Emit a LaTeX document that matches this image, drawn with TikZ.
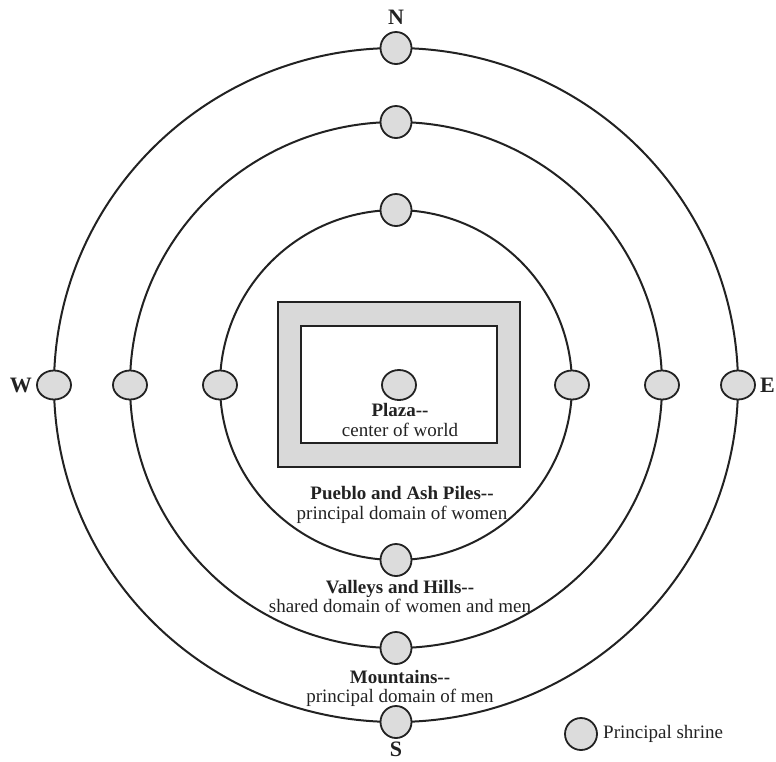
\documentclass[tikz,border=0pt]{standalone}
\usepackage{fontspec}
\setmainfont{Liberation Serif}
\usetikzlibrary{shapes.geometric,positioning}

\definecolor{shrinegray}{HTML}{DCDCDC}
\definecolor{puebloGray}{HTML}{D9D9D9}
\definecolor{inkgray}{HTML}{222222}

\begin{document}
\begin{tikzpicture}[x=1pt, y=-1pt,
		ring/.style       = {draw=inkgray, line width=2pt},
		shrine/.style     = {ellipse, draw=inkgray, line width=1.8pt, fill=shrinegray, inner sep=0pt, minimum width=31pt, minimum height=32pt},
		sideshrine/.style = {minimum width=34pt, minimum height=29pt},
		block/.style      = {rectangle, draw=inkgray, line width=2pt, inner sep=0pt},
		compass/.style    = {font=\fontsize{22}{22}\selectfont\bfseries, text=inkgray, inner sep=0pt},
		headtext/.style   = {font=\fontsize{19}{20}\selectfont\bfseries, text=inkgray, inner sep=0pt, anchor=base},
		subtext/.style    = {font=\fontsize{19}{20}\selectfont, text=inkgray, inner sep=0pt, anchor=base}]
		
		\useasboundingbox (0,0) rectangle (776,761);
		\coordinate (c) at (396,385);
		
		% the three rings of the world
		\foreach \name/\rx/\ry in {outer/342/337, middle/266/263, inner/176/175}
		\draw[ring] (c) ellipse [x radius=\rx pt, y radius=\ry pt];
		
		% pueblo with the plaza inside
		\node[block, fill=puebloGray, minimum width=242pt, minimum height=165pt] (pueblo) at (399,384.5) {};
		\node[block, fill=white, minimum width=196pt, minimum height=117pt] (plaza) at (399,384.5) {};
		
		% shrines on every ring, one for each direction
		\foreach \name/\rx/\ry in {outer/342/337, middle/266/263, inner/176/175}
		\path (c) ++(0,-\ry) node[shrine] (\name N) {}
		      (c) ++(0,\ry)  node[shrine] (\name S) {}
		      (c) ++(-\rx,0) node[shrine, sideshrine] (\name W) {}
		      (c) ++(\rx,0)  node[shrine, sideshrine] (\name E) {};
		
		\node[shrine, sideshrine, minimum height=30pt] (center) at (399,385) {};
		
		% directions
		\node[compass, above=6pt of outerN] (north) {N};
		\node[compass, below=3pt of outerS] (south) {S};
		\node[compass, left=4pt of outerW]  (west) {W};
		\node[compass, right=4pt of outerE] (east) {E};
		
		% domains
		\node[headtext] (plazahead) at (400,416) {Plaza-{}-};
		\node[subtext] (plazasub) at ([yshift=-20pt]plazahead.base) {center of world};
		
		\node[headtext] (pueblohead) at (402,499) {Pueblo and Ash Piles-{}-};
		\node[subtext] (pueblosub) at ([yshift=-20pt]pueblohead.base) {principal domain of women};
		
		\node[headtext] (valleyhead) at (400,593) {Valleys and Hills-{}-};
		\node[subtext] (valleysub) at ([yshift=-19pt]valleyhead.base) {shared domain of women and men};
		
		\node[headtext] (mountainhead) at (400,683) {Mountains-{}-};
		\node[subtext] (mountainsub) at ([yshift=-19pt]mountainhead.base) {principal domain of men};
		
		% legend
		\node[shrine, minimum width=32pt, minimum height=32pt] (legend) at (581,734) {};
		\node[subtext, anchor=base west] (legendtext) at (603,738) {Principal shrine};
		
	\end{tikzpicture}
\end{document}
